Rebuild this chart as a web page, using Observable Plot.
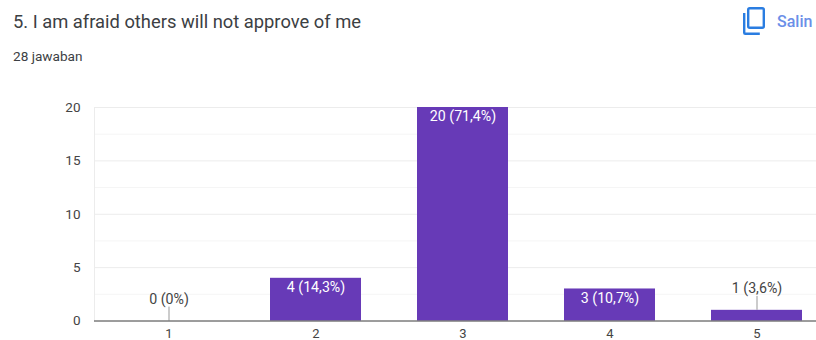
<!DOCTYPE html>
<html>
<head>
<meta charset="utf-8">
<script src="https://cdn.jsdelivr.net/npm/d3@7"></script>
<script src="https://cdn.jsdelivr.net/npm/@observablehq/plot@0.6"></script>
<style>
  html, body { margin: 0; padding: 0; background: #fff; overflow: hidden; width: 816px; height: 340px; }
  body { font-family: Roboto, sans-serif; }
  #head { position: relative; height: 90px; width: 816px; }
  #title { position: absolute; left: 13px; top: 10px; font-size: 18.35px; line-height: 24px; color: #3c4043; white-space: nowrap; }
  #count { position: absolute; left: 13px; top: 48px; font-size: 13.6px; line-height: 16px; color: #3c4043; white-space: nowrap; }
  #copy { position: absolute; left: 742px; top: 6px; }
  #copyLabel { position: absolute; left: 777px; top: 12px; font-size: 16px; line-height: 20px; color: #6b8fe8; font-weight: 500; white-space: nowrap; }
  #chart { width: 816px; height: 250px; overflow: hidden; }
  #chart svg { display: block; }
</style>
</head>
<body>
<div id="head">
  <div id="title">5. I am afraid others will not approve of me</div>
  <div id="count">28 jawaban</div>
  <svg id="copy" width="24" height="30" viewBox="0 0 24 30" fill="none" stroke="#2a7de1" stroke-width="2.4">
    <rect x="6.2" y="2.2" width="15.6" height="19.6" rx="1.5"></rect>
    <path d="M2.2 7v19.8a1 1 0 0 0 1 1H17.8"></path>
  </svg>
  <div id="copyLabel">Salin</div>
</div>
<div id="chart"></div>
<script>
// Answers on the 1-5 scale and how many respondents chose each one
const categories = ["1", "2", "3", "4", "5"];
const counts = [0, 4, 20, 3, 1];
const labels = ["0 (0%)", "4 (14,3%)", "20 (71,4%)", "3 (10,7%)", "1 (3,6%)"];
const majorTicks = [0, 5, 10, 15, 20];
const minorTicks = [2.5, 7.5, 12.5, 17.5];

const rows = categories.map((category, i) => ({ category, count: counts[i], label: labels[i] }));
// Short bars cannot hold their label, so it sits above on a leader line
const inside = rows.filter(d => d.count >= 3);
const outside = rows.filter(d => d.count < 3);

const chart = Plot.plot({
  width: 831,
  height: 270,
  marginLeft: 94,
  marginRight: 0,
  marginTop: 17,
  marginBottom: 39.5,
  style: { fontFamily: "Roboto, sans-serif", fontSize: "13px", background: "#fff", maxWidth: "none" },
  x: { type: "band", domain: categories, range: [95, 831], paddingInner: 0.38, paddingOuter: 0.19, label: null },
  y: { domain: [0, 20], label: null },
  marks: [
    Plot.ruleY(minorTicks, { stroke: "#f5f5f5", strokeWidth: 1 }),
    Plot.ruleY(majorTicks, { stroke: "#ececec", strokeWidth: 1 }),
    Plot.frame({ anchor: "left", stroke: "#ececec" }),
    Plot.barY(rows, { x: "category", y: "count", fill: "#673ab7" }),
    Plot.ruleX(outside, { x: "category", y1: "count", y2: d => d.count + 1.3, stroke: "#999", strokeWidth: 1 }),
    Plot.ruleY([0], { stroke: "#444", strokeWidth: 1.2 }),
    Plot.text(inside, { x: "category", y: "count", text: "label", dy: 9, fill: "#fff", fontSize: 14.2 }),
    Plot.text(outside, { x: "category", y: "count", text: "label", dy: -22, fill: "#444", fontSize: 14.2 }),
    Plot.axisY({ ticks: majorTicks, tickSize: 0, tickPadding: 14, color: "#444", fontSize: 13.5, label: null }),
    Plot.axisX({ tickSize: 0, tickPadding: 8, color: "#444", fontSize: 13, label: null })
  ]
});
document.getElementById("chart").appendChild(chart);
</script>
</body>
</html>
